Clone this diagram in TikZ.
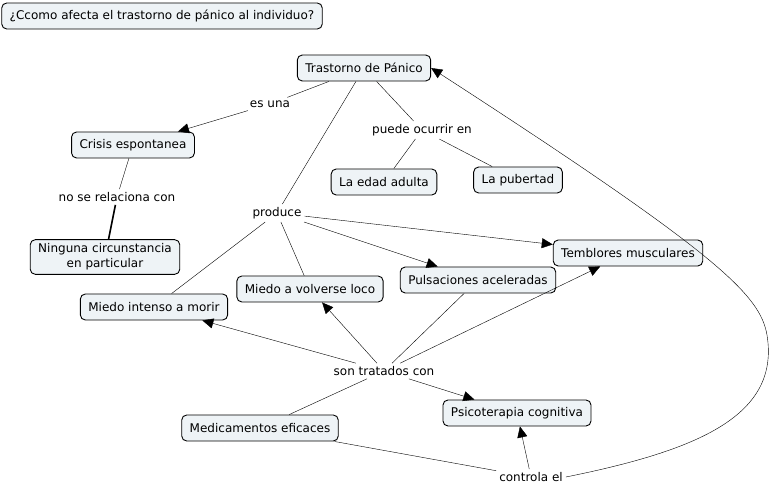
\documentclass[tikz,border=0pt]{standalone}
\usepackage{fontspec}
\setmainfont{DejaVu Sans}
\usetikzlibrary{arrows.meta}
\definecolor{cBox}{RGB}{238,243,246}
\newcommand{\fs}{\fontsize{12}{15}\selectfont}

\begin{document}
\begin{tikzpicture}[x=1pt,y=-1pt,
   concept/.style={draw,rounded corners=5pt,fill=cBox,inner xsep=8pt,inner ysep=4pt,minimum height=26pt,font=\fs,align=center,line width=0.9pt},
   link/.style={font=\fs,inner sep=3pt},
   arr/.style={-{Triangle[length=11pt,width=10pt]}}]
  \useasboundingbox (0,0) rectangle (772,486);
  % concepts
  \node[concept] (q) at (162,16) {¿Ccomo afecta el trastorno de pánico al individuo?};
  \node[concept] (tp) at (364,68) {Trastorno de Pánico};
  \node[concept] (ce) at (133,145) {Crisis espontanea};
  \node[concept] (nc) at (105,257) {Ninguna circunstancia\\en particular};
  \node[concept] (ea) at (384,182) {La edad adulta};
  \node[concept] (pu) at (518,180) {La pubertad};
  \node[concept] (tm) at (628,253) {Temblores musculares};
  \node[concept] (pa) at (478,280) {Pulsaciones aceleradas};
  \node[concept] (mv) at (310,289) {Miedo a volverse loco};
  \node[concept] (mm) at (154,307) {Miedo intenso a morir};
  \node[concept] (ps) at (517,413) {Psicoterapia cognitiva};
  \node[concept] (me) at (260,428) {Medicamentos eficaces};
  % linking phrases
  \node[link] (l1) at (270,104) {es una};
  \node[link] (l2) at (117,197) {no se relaciona con};
  \node[link] (l3) at (422,130) {puede ocurrir en};
  \node[link] (l4) at (277,213) {produce};
  \node[link] (l5) at (384,371) {son tratados con};
  \node[link] (l6) at (531,477) {controla el};
  % connectors
  \draw (tp)--(l1); \draw[arr] (l1)--(ce);
  \draw (ce)--(l2); \draw[line width=1.6pt] (l2)--(nc);
  \draw (tp)--(l3); \draw (l3)--(ea); \draw (l3)--(pu);
  \draw (tp)--(l4);
  \draw[arr] (l4)--(tm); \draw[arr] (l4)--(pa);
  \draw (l4)--(mv); \draw (l4)--(mm);
  \draw (pa)--(l5);
  \draw[arr] (l5)--(tm); \draw[arr] (l5)--(mv); \draw[arr] (l5)--(mm);
  \draw[arr] (l5)--(ps); \draw (l5)--(me);
  \draw (me)--(l6); \draw[arr] (l6)--(ps);
  \draw[arr] (l6.east) .. controls (700,450) and (780,415) .. (767,335)
     .. controls (760,295) and (720,255) .. (tp.east);
\end{tikzpicture}
\end{document}
